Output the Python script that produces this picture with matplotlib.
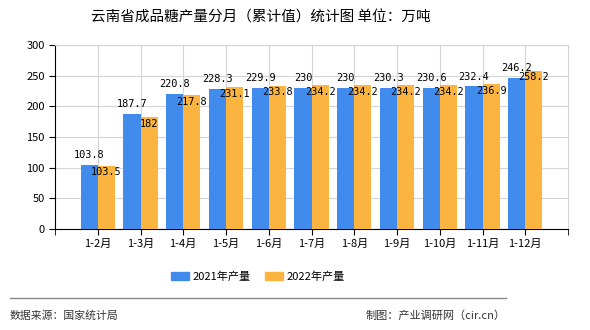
import numpy as np
import matplotlib.pyplot as plt
from matplotlib.lines import Line2D

plt.rcParams['font.family'] = ['Noto Sans CJK SC', 'DejaVu Sans']

months = ['1-2月', '1-3月', '1-4月', '1-5月', '1-6月', '1-7月', '1-8月', '1-9月', '1-10月', '1-11月', '1-12月']
prod_2021 = [103.8, 187.7, 220.8, 228.3, 229.9, 230, 230, 230.3, 230.6, 232.4, 246.2]
prod_2022 = [103.5, 182, 217.8, 231.1, 233.8, 234.2, 234.2, 234.2, 234.2, 236.9, 258.2]
labels_2021 = ['103.8', '187.7', '220.8', '228.3', '229.9', '230', '230', '230.3', '230.6', '232.4', '246.2']
labels_2022 = ['103.5', '182', '217.8', '231.1', '233.8', '234.2', '234.2', '234.2', '234.2', '236.9', '258.2']

blue = '#418bed'
orange = '#fbb440'

fig = plt.figure(figsize=(5.9, 3.3), dpi=100)
ax = fig.add_axes([55 / 590, 1 - 229 / 330, 513 / 590, 184 / 330])

x = np.arange(1, len(months) + 1)
w = 0.4
ax.bar(x - w / 2, prod_2021, w, color=blue, zorder=3)
ax.bar(x + w / 2, prod_2022, w, color=orange, zorder=3)

for xi, v, s in zip(x, prod_2021, labels_2021):
    ax.text(xi - 0.2, v + 8, s, ha='center', va='bottom', fontsize=7.4,
            family='DejaVu Sans Mono', zorder=5)
for xi, v, s in zip(x, prod_2022, labels_2022):
    ax.text(xi + 0.2, v - 3, s, ha='center', va='top', fontsize=7.4,
            family='DejaVu Sans Mono', zorder=5)

ax.set_xlim(0, 12)
ax.set_ylim(0, 300)
ax.set_xticks(x)
ax.set_xticks([0, 12], minor=True)
ax.set_xticklabels(months, fontsize=8)
ax.set_yticks(range(0, 301, 50))
ax.tick_params(axis='y', labelsize=8, length=4, colors='black')
ax.tick_params(axis='x', which='both', length=4, pad=3)
ax.grid(True, color='#d4d4d4', linewidth=0.8, zorder=0)
for sp in ['top', 'right']:
    ax.spines[sp].set_color('#d4d4d4')
ax.spines['left'].set_color('black')
ax.spines['bottom'].set_color('black')

fig.text(261 / 590, 1 - 18 / 330, '云南省成品糖产量分月（累计值）统计图 单位：万吨',
         ha='center', va='center', fontsize=10.5, fontweight='medium')

handles = [plt.Rectangle((0, 0), 1, 1, color=blue), plt.Rectangle((0, 0), 1, 1, color=orange)]
fig.legend(handles, ['2021年产量', '2022年产量'], loc='center', bbox_to_anchor=(258 / 590, 1 - 277 / 330),
           ncol=2, frameon=False, fontsize=8, handlelength=1.6, handleheight=0.75,
           handletextpad=0.3, columnspacing=1.3, borderpad=0)

fig.add_artist(Line2D([10 / 590, 506 / 590], [1 - 298 / 330, 1 - 298 / 330], color='#888888', linewidth=1))
fig.text(10 / 590, 1 - 316 / 330, '数据来源：国家统计局', ha='left', va='center', fontsize=7.8, color='#333333')
fig.text(506 / 590, 1 - 316 / 330, '制图：产业调研网（cir.cn）', ha='right', va='center', fontsize=8, color='#333333')

fig.savefig('out.png', dpi=100)
